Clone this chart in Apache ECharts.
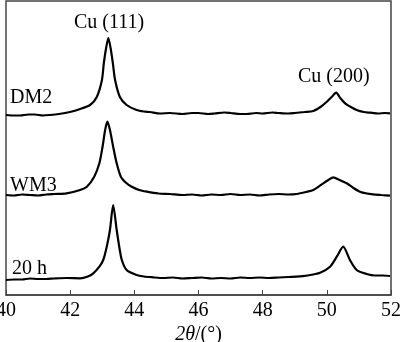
<!DOCTYPE html>
<html>
<head>
    <meta charset="utf-8">
    <title>XRD</title>
    <script src="https://cdn.jsdelivr.net/npm/echarts@6/dist/echarts.min.js"></script>
</head>
<body style="margin:0">
    <div id="main" style="width: 400px;height:342px;"></div>
    <script type="text/javascript">
        // 2θ ticks
        var xTicks = [40, 42, 44, 46, 48, 50, 52];

        // curves, [2θ, intensity] (already offset for stacking)
        var dm2 = [
            [40.00, 180], [40.25, 179.5], [40.44, 179.5], [40.70, 180.5], [40.90, 180.5], [41.15, 179.5],
            [41.37, 180], [41.65, 181], [41.99, 183], [42.31, 186], [42.62, 190], [42.83, 198],
            [42.99, 215], [43.05, 232], [43.12, 247], [43.19, 257], [43.26, 247], [43.33, 232],
            [43.40, 215], [43.55, 198], [43.76, 190], [44.07, 185], [44.30, 183.5], [44.49, 183],
            [44.80, 181.5], [45.11, 182], [45.50, 181], [45.80, 182], [46.00, 182], [46.30, 181],
            [46.50, 181.5], [46.80, 182.5], [47.00, 182], [47.30, 181], [47.50, 181], [47.80, 182],
            [48.00, 181.5], [48.30, 182.5], [48.50, 182], [48.80, 181.5], [49.00, 182], [49.30, 183],
            [49.58, 184], [49.80, 188], [50.00, 193.3], [50.15, 198], [50.29, 202.3], [50.42, 197],
            [50.57, 191.7], [50.75, 188], [50.93, 185], [51.15, 183], [51.35, 182.3], [51.60, 181.5],
            [51.80, 182], [51.97, 181.7]
        ];

        var wm3 = [
            [40.00, 100], [40.25, 99.5], [40.50, 100.5], [40.75, 100], [41.00, 99.5], [41.25, 100.5],
            [41.50, 101], [41.89, 101.7], [42.31, 105], [42.52, 108.3], [42.75, 118.3], [42.91, 131.7],
            [43.01, 148.3], [43.09, 165], [43.16, 173.3], [43.24, 165], [43.34, 148.3], [43.45, 131.7],
            [43.58, 118.3], [43.75, 112], [43.92, 108.3], [44.15, 105], [44.39, 103.3], [44.75, 101.5],
            [45.11, 101], [45.50, 100], [45.80, 100.5], [46.10, 99.5], [46.40, 100.5], [46.70, 100],
            [47.00, 101], [47.30, 100], [47.60, 100.5], [47.90, 99.5], [48.20, 100.5], [48.50, 101],
            [48.80, 100.5], [49.06, 101], [49.35, 103], [49.58, 105], [49.89, 111.7], [50.05, 115],
            [50.20, 117.7], [50.40, 115], [50.62, 111.7], [50.83, 107], [51.03, 103.3], [51.25, 101.5],
            [51.44, 100.7], [51.70, 100], [51.97, 99.3]
        ];

        var h20 = [
            [40.00, 15], [40.25, 15.5], [40.50, 15.5], [40.75, 16.5], [41.00, 16], [41.25, 16],
            [41.50, 16.5], [41.90, 17], [42.31, 16.7], [42.55, 18.5], [42.72, 21.7], [42.91, 28.3],
            [43.03, 35], [43.14, 48.3], [43.24, 65], [43.34, 90], [43.45, 65], [43.53, 48.3],
            [43.61, 35], [43.76, 25], [44.07, 20], [44.30, 18.5], [44.58, 17.7], [44.90, 17],
            [45.20, 17.5], [45.50, 16.5], [45.80, 17], [46.10, 17.5], [46.40, 16.5], [46.70, 17],
            [47.00, 16.5], [47.30, 17.5], [47.60, 17], [47.90, 17.5], [48.20, 17], [48.50, 17.5],
            [48.80, 18], [49.06, 18.3], [49.40, 19.5], [49.79, 22.3], [50.10, 28.3], [50.31, 38.3],
            [50.51, 48.3], [50.72, 35], [50.93, 25], [51.24, 21], [51.50, 19.5], [51.75, 19.5],
            [51.97, 19]
        ];

        var curveNames = ['DM2', 'WM3', '20 h'];
        var peakLabels = ['Cu (111)', 'Cu (200)'];

        var font = 'Liberation Serif, Times New Roman, serif';
        var axisColor = '#444';

        var myChart = echarts.init(document.getElementById('main'));

        function lineSeries(name, data) {
            return {
                name: name,
                type: 'line',
                data: data,
                showSymbol: false,
                smooth: 0.25,
                lineStyle: { color: '#000', width: 2.2 },
                animation: false
            };
        }

        var option = {
            animation: false,
            grid: {
                left: 6, right: 9, top: 1, bottom: 47,
                outerBoundsMode: 'none',
                containLabel: false,
                show: true,
                borderColor: axisColor,
                borderWidth: 1.5
            },
            xAxis: {
                type: 'value',
                min: xTicks[0],
                max: xTicks[xTicks.length - 1],
                interval: 2,
                axisLine: { lineStyle: { color: axisColor, width: 1.5 } },
                axisTick: { inside: true, length: 5, lineStyle: { color: axisColor, width: 1 } },
                axisLabel: { color: '#000', fontFamily: font, fontSize: 20, margin: 6 },
                splitLine: { show: false },
                name: '{i|2θ}{n|/(°)}',
                nameLocation: 'middle',
                nameGap: 30,
                nameMoveOverlap: false,
                nameTextStyle: {
                    rich: {
                        i: { fontFamily: font, fontSize: 20, fontStyle: 'italic', color: '#000' },
                        n: { fontFamily: font, fontSize: 20, color: '#000' }
                    }
                }
            },
            yAxis: {
                type: 'value',
                min: 0,
                max: 294,
                show: true,
                axisLine: { show: false },
                axisTick: { show: false },
                axisLabel: { show: false },
                splitLine: { show: false }
            },
            series: [
                lineSeries(curveNames[0], dm2),
                lineSeries(curveNames[1], wm3),
                lineSeries(curveNames[2], h20)
            ],
            graphic: [
                { type: 'text', left: 10, top: 88, style: { text: curveNames[0], font: '20px ' + font, fill: '#000' } },
                { type: 'text', left: 10, top: 176, style: { text: curveNames[1], font: '20px ' + font, fill: '#000' } },
                { type: 'text', left: 12, top: 259, style: { text: curveNames[2], font: '20px ' + font, fill: '#000' } },
                { type: 'text', left: 74, top: 13, style: { text: peakLabels[0], font: '20px ' + font, fill: '#000' } },
                { type: 'text', left: 298, top: 67, style: { text: peakLabels[1], font: '20px ' + font, fill: '#000' } }
            ]
        };

        myChart.setOption(option);
    </script>
</body>
</html>
